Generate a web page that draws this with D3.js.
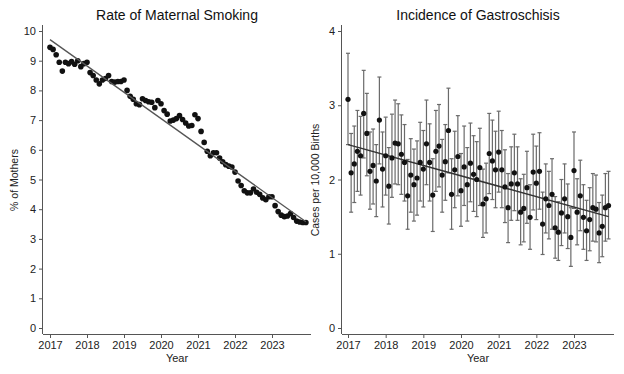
<!DOCTYPE html>
<html>
<head>
<meta charset="utf-8">
<script src="https://cdn.jsdelivr.net/npm/d3@7"></script>
<style>
  body { margin: 0; background: #fff; }
  svg { font-family: "Liberation Sans", Arial, sans-serif; }
  .axis path, .axis line { stroke: #555; }
  .axis text { fill: #222; font-size: 11px; }
</style>
</head>
<body>
<svg id="chart" width="624" height="374"></svg>
<script>
// monthly series, Jan 2017 .. Dec 2023
const smoking = [
  9.45, 9.38, 9.2, 8.95, 8.65, 8.95, 8.9, 8.97, 8.88, 9.0, 8.8, 8.9,
  8.95, 8.6, 8.5, 8.35, 8.22, 8.35, 8.4, 8.5, 8.3, 8.28, 8.3, 8.3,
  8.35, 8.0, 7.8, 7.7, 7.55, 7.52, 7.72, 7.66, 7.62, 7.6, 7.42, 7.66,
  7.55, 7.32, 7.2, 6.97, 7.0, 7.05, 7.15, 7.02, 6.9, 6.8, 6.82, 7.18,
  7.05, 6.62, 6.25, 5.95, 5.8, 5.9, 5.9, 5.72, 5.6, 5.5, 5.45, 5.42,
  5.25, 4.95, 4.8, 4.62, 4.55, 4.55, 4.68, 4.57, 4.5, 4.38, 4.32, 4.42,
  4.42, 4.12, 3.92, 3.8, 3.75, 3.77, 3.85, 3.72, 3.6, 3.57, 3.55, 3.55
];
const smokingTrend = [9.71, 3.58];

const gastro = [
  3.08, 2.09, 2.21, 2.38, 2.32, 2.89, 2.62, 2.11, 2.19, 1.98, 2.80, 2.14,
  2.32, 1.91, 2.29, 2.49, 2.48, 2.34, 2.23, 1.78, 2.06, 1.93, 2.02, 2.23,
  2.14, 2.48, 2.23, 1.79, 2.38, 2.45, 2.06, 2.24, 2.66, 1.80, 2.13, 2.31,
  1.85, 2.17, 1.93, 2.22, 2.07, 2.00, 2.16, 1.67, 1.74, 2.35, 2.25, 2.13,
  2.37, 2.13, 1.90, 1.62, 1.94, 2.09, 1.94, 1.56, 1.61, 1.89, 1.49, 2.10,
  1.95, 2.11, 1.40, 1.74, 1.65, 1.80, 1.35, 1.29, 1.55, 1.74, 1.50, 1.22,
  2.12, 1.56, 1.78, 1.49, 1.31, 1.46, 1.62, 1.60, 1.28, 1.37, 1.62, 1.65
];
const gastroHi = [
  3.70, 2.62, 2.72, 2.93, 2.85, 3.47, 3.16, 2.64, 2.68, 2.47, 3.38, 2.64,
  2.84, 2.43, 2.88, 3.07, 3.02, 2.87, 2.74, 2.27, 2.55, 2.41, 2.52, 2.77,
  2.66, 3.07, 2.75, 2.28, 2.93, 3.01, 2.54, 2.74, 3.23, 2.28, 2.65, 2.86,
  2.35, 2.72, 2.43, 2.76, 2.59, 2.51, 2.69, 2.14, 2.22, 2.89, 2.80, 2.65,
  2.92, 2.66, 2.40, 2.08, 2.44, 2.61, 2.44, 2.01, 2.07, 2.38, 1.93, 2.61,
  2.45, 2.63, 1.83, 2.21, 2.11, 2.28, 1.77, 1.70, 2.00, 2.21, 1.94, 1.62,
  2.64, 2.01, 2.26, 1.93, 1.72, 1.89, 2.08, 2.06, 1.69, 1.79, 2.08, 2.11
];
const gastroLo = [
  2.47, 1.56, 1.69, 1.84, 1.79, 2.29, 2.05, 1.60, 1.67, 1.50, 2.21, 1.63,
  1.79, 1.40, 1.76, 1.94, 1.93, 1.80, 1.71, 1.33, 1.56, 1.44, 1.52, 1.71,
  1.63, 1.93, 1.71, 1.30, 1.84, 1.90, 1.56, 1.72, 2.09, 1.33, 1.62, 1.78,
  1.37, 1.65, 1.44, 1.70, 1.57, 1.50, 1.65, 1.22, 1.28, 1.81, 1.73, 1.62,
  1.83, 1.62, 1.42, 1.15, 1.45, 1.58, 1.45, 1.12, 1.16, 1.41, 1.06, 1.59,
  1.46, 1.60, 0.99, 1.28, 1.20, 1.33, 0.94, 0.91, 1.11, 1.28, 1.07, 0.83,
  1.61, 1.12, 1.31, 1.06, 0.91, 1.04, 1.17, 1.16, 0.88, 0.96, 1.17, 1.20
];
const gastroTrend = [2.47, 1.50];

const years = [2017, 2018, 2019, 2020, 2021, 2022, 2023];
const smokingTicks = [0, 1, 2, 3, 4, 5, 6, 7, 8, 9, 10];
const gastroTicks = [0, 1, 2, 3, 4];

const svg = d3.select("#chart");
const month = (i) => 2017 + i / 12;

const drawPanel = (opts) => {
  const g = svg.append("g");

  const x = d3.scaleLinear().domain([2017, 2023]).range([opts.x0, opts.x1]);
  const y = d3.scaleLinear().domain([0, opts.ymax]).range([328, 31]);

  const xAxis = g
    .append("g")
    .attr("class", "axis")
    .attr("transform", "translate(0,334)")
    .call(d3.axisBottom(x).tickValues(years).tickFormat(d3.format("d")).tickSize(4).tickPadding(3));
  xAxis.select(".domain").attr("d", `M${opts.left},0.5H${opts.right}`);

  const yAxis = g
    .append("g")
    .attr("class", "axis")
    .attr("transform", `translate(${opts.left},0)`)
    .call(d3.axisLeft(y).tickValues(opts.ticks).tickFormat(d3.format("d")).tickSize(4).tickPadding(3));
  yAxis.select(".domain").attr("d", "M-0.5,25V334");

  g.append("text")
    .attr("x", (opts.left + opts.right) / 2)
    .attr("y", 20)
    .attr("text-anchor", "middle")
    .attr("font-size", 14)
    .attr("fill", "#111")
    .text(opts.title);

  g.append("text")
    .attr("x", (opts.left + opts.right) / 2)
    .attr("y", 362)
    .attr("text-anchor", "middle")
    .attr("font-size", 11)
    .attr("fill", "#222")
    .text("Year");

  g.append("text")
    .attr("transform", `translate(${opts.labelX},180) rotate(-90)`)
    .attr("text-anchor", "middle")
    .attr("font-size", 10.5)
    .attr("fill", "#222")
    .text(opts.ylabel);

  return { g, x, y };
};

// left panel
const left = drawPanel({
  x0: 50, x1: 272, left: 43, right: 311, ymax: 10,
  ticks: smokingTicks, title: "Rate of Maternal Smoking",
  ylabel: "% of Mothers", labelX: 18
});

left.g
  .selectAll(".dot")
  .data(smoking)
  .enter()
  .append("circle")
  .attr("cx", (d, i) => left.x(month(i)))
  .attr("cy", (d) => left.y(d))
  .attr("r", 2.8)
  .attr("fill", "#111");

left.g
  .append("line")
  .attr("x1", left.x(2017))
  .attr("y1", left.y(smokingTrend[0]))
  .attr("x2", left.x(month(83)))
  .attr("y2", left.y(smokingTrend[1]))
  .attr("stroke", "#555")
  .attr("stroke-width", 1.3);

// right panel
const right = drawPanel({
  x0: 348, x1: 574, left: 342, right: 614, ymax: 4,
  ticks: gastroTicks, title: "Incidence of Gastroschisis",
  ylabel: "Cases per 10,000 Births", labelX: 319
});

const bars = right.g
  .selectAll(".ci")
  .data(gastro)
  .enter()
  .append("g")
  .attr("stroke", "#6a6a6a")
  .attr("stroke-width", 1.2);

bars.append("line")
  .attr("x1", (d, i) => right.x(month(i)))
  .attr("x2", (d, i) => right.x(month(i)))
  .attr("y1", (d, i) => right.y(gastroHi[i]))
  .attr("y2", (d, i) => right.y(gastroLo[i]));

[gastroHi, gastroLo].forEach((arr) => {
  bars.append("line")
    .attr("x1", (d, i) => right.x(month(i)) - 2)
    .attr("x2", (d, i) => right.x(month(i)) + 2)
    .attr("y1", (d, i) => right.y(arr[i]))
    .attr("y2", (d, i) => right.y(arr[i]));
});

right.g
  .append("line")
  .attr("x1", right.x(2017))
  .attr("y1", right.y(gastroTrend[0]))
  .attr("x2", right.x(month(83)))
  .attr("y2", right.y(gastroTrend[1]))
  .attr("stroke", "#333")
  .attr("stroke-width", 1.5);

right.g
  .selectAll(".dot")
  .data(gastro)
  .enter()
  .append("circle")
  .attr("cx", (d, i) => right.x(month(i)))
  .attr("cy", (d) => right.y(d))
  .attr("r", 2.6)
  .attr("fill", "#111");
</script>
</body>
</html>
